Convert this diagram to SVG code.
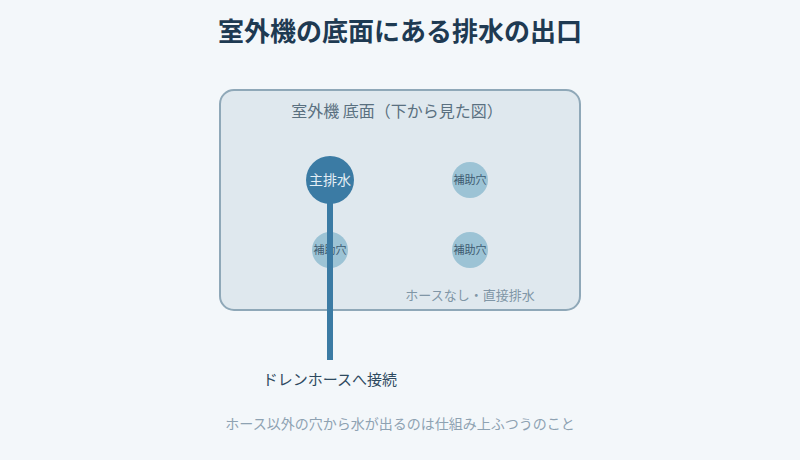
<svg xmlns="http://www.w3.org/2000/svg" width="800" height="460" viewBox="0 0 800 460">
<style>
text{font-family:"Noto Sans CJK JP","Noto Sans",sans-serif;text-anchor:middle}
.aux circle{fill:#9cc3d5}
.aux text{font-size:11px;fill:#3d5a70}
</style>
<rect width="800" height="460" fill="#f3f7fa"/>
<text x="400" y="41" font-size="26" font-weight="bold" fill="#1e3a52">室外機の底面にある排水の出口</text>
<g id="unit">
<rect x="220" y="90" width="360" height="220" rx="14" fill="#dfe8ee" stroke="#8fa8b8" stroke-width="2"/>
<text x="397" y="117" font-size="16" fill="#5a7080">室外機 底面（下から見た図）</text>
<text x="470" y="300" font-size="13" fill="#8096a6">ホースなし・直接排水</text>
</g>
<g id="aux1" class="aux"><circle cx="470" cy="180" r="18"/><text x="470" y="184">補助穴</text></g>
<g id="aux2" class="aux"><circle cx="330" cy="250" r="18"/><text x="330" y="254">補助穴</text></g>
<g id="aux3" class="aux"><circle cx="470" cy="250" r="18"/><text x="470" y="254">補助穴</text></g>
<g id="connectors"><line x1="330" y1="190" x2="330" y2="360" stroke="#3b7ba4" stroke-width="6"/></g>
<g id="main"><circle cx="330" cy="180" r="24" fill="#3b7ba4"/><text x="330" y="185" font-size="14" fill="#e3eef5">主排水</text></g>
<g id="hose"><text x="330" y="385" font-size="15" fill="#2e4a60">ドレンホースへ接続</text></g>
<text x="400" y="429" font-size="14" fill="#8ea2b2">ホース以外の穴から水が出るのは仕組み上ふつうのこと</text>
</svg>
